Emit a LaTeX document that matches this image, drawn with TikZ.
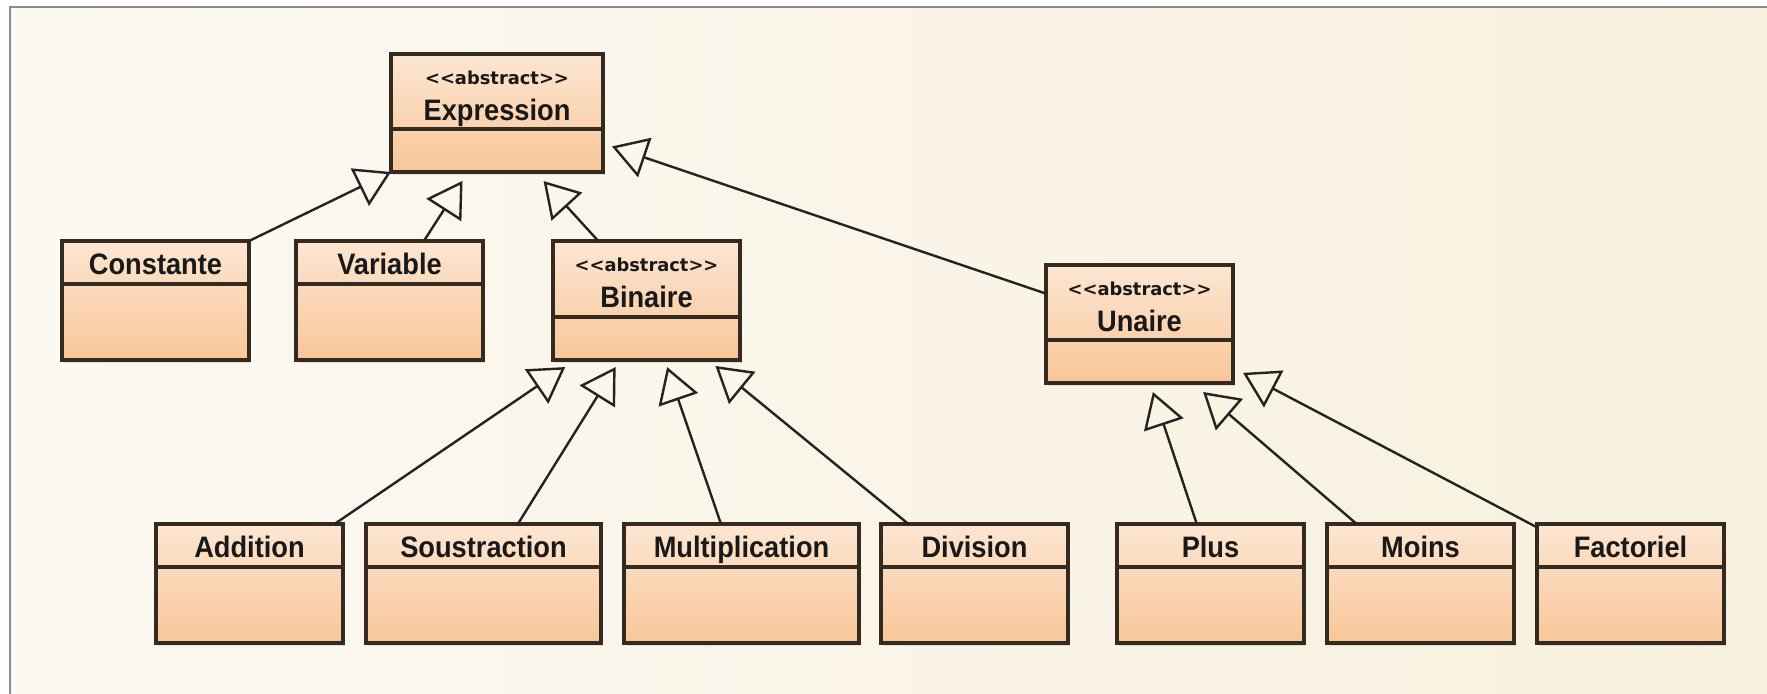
\documentclass[tikz,border=0pt]{standalone}
\usepackage{fontspec}
\setmainfont{Liberation Sans}
\newfontfamily\namefont[FakeStretch=0.92]{Liberation Sans}
\newfontfamily\stereofont{DejaVu Sans}
\usetikzlibrary{arrows.meta,shadows}

\definecolor{boxtop}{RGB}{252,230,210}
\definecolor{boxbot}{RGB}{248,198,152}
\definecolor{boxline}{RGB}{52,42,32}
\definecolor{bgleft}{RGB}{252,249,242}
\definecolor{bgright}{RGB}{247,240,221}
\definecolor{framegray}{RGB}{140,140,140}
\definecolor{arrowline}{RGB}{35,35,35}

\begin{document}
\begin{tikzpicture}[x=0.75pt,y=0.75pt,yscale=-1,xscale=1,
  classbox/.style={draw=boxline, line width=2.3pt, top color=boxtop, bottom color=boxbot, anchor=north west, inner sep=0pt, outer sep=0pt, minimum width=140.25pt, minimum height=89.25pt, drop shadow={opacity=0.2, shadow xshift=1.5pt, shadow yshift=-2.5pt}},
  widebox/.style={classbox, minimum width=176.25pt},
  classname/.style={anchor=base, inner sep=0pt, font=\namefont\bfseries\fontsize{22.2}{24}\selectfont, text=black!90},
  stereo/.style={anchor=base, inner sep=0pt, font=\stereofont\bfseries\fontsize{13.4}{15}\selectfont, text=black!90},
  compline/.style={draw=boxline, line width=2.3pt},
  inherit/.style={draw=arrowline, line width=1.8pt, -{Triangle[open, length=26pt, width=31pt]}}
]
\useasboundingbox (0,0) rectangle (1767,693);
\clip (0,0) rectangle (1767,693);

%Background
\fill [white] (0,0) rectangle (1767,693);
\draw [framegray, line width=1.8pt, left color=bgleft, right color=bgright] (10,7) rectangle (1800,720);

%Class: Expression
\node [classbox, minimum width=159pt, minimum height=88.5pt] (expr) at (391,54) {};
\draw [compline] (expr.north west) ++(0,75) -- ++(212,0);
% Text Node
\node [stereo] (expr-s) at (497,84) {<<abstract>>};
% Text Node
\node [classname] (expr-t) at (497,120) {Expression};

%Class: Constante
\node [classbox] (const) at (62,241) {};
\draw [compline] (const.north west) ++(0,43) -- ++(187,0);
% Text Node
\node [classname] (const-t) at (155.5,274) {Constante};

%Class: Variable
\node [classbox] (var) at (296,241) {};
\draw [compline] (var.north west) ++(0,43) -- ++(187,0);
% Text Node
\node [classname] (var-t) at (389.5,274) {Variable};

%Class: Binaire
\node [classbox] (bin) at (553,241) {};
\draw [compline] (bin.north west) ++(0,76) -- ++(187,0);
% Text Node
\node [stereo] (bin-s) at (646.5,271) {<<abstract>>};
% Text Node
\node [classname] (bin-t) at (646.5,307) {Binaire};

%Class: Unaire
\node [classbox, minimum height=88.5pt] (un) at (1046,265) {};
\draw [compline] (un.north west) ++(0,75) -- ++(187,0);
% Text Node
\node [stereo] (un-s) at (1139.5,295) {<<abstract>>};
% Text Node
\node [classname] (un-t) at (1139.5,331) {Unaire};

%Class: Addition
\node [classbox] (add) at (156,524) {};
\draw [compline] (add.north west) ++(0,43) -- ++(187,0);
% Text Node
\node [classname] (add-t) at (249.5,557) {Addition};

%Class: Soustraction
\node [widebox] (sous) at (366,524) {};
\draw [compline] (sous.north west) ++(0,43) -- ++(235,0);
% Text Node
\node [classname] (sous-t) at (483.5,557) {Soustraction};

%Class: Multiplication
\node [widebox] (mult) at (624,524) {};
\draw [compline] (mult.north west) ++(0,43) -- ++(235,0);
% Text Node
\node [classname] (mult-t) at (741.5,557) {Multiplication};

%Class: Division
\node [classbox] (div) at (881,524) {};
\draw [compline] (div.north west) ++(0,43) -- ++(187,0);
% Text Node
\node [classname] (div-t) at (974.5,557) {Division};

%Class: Plus
\node [classbox] (plus) at (1117,524) {};
\draw [compline] (plus.north west) ++(0,43) -- ++(187,0);
% Text Node
\node [classname] (plus-t) at (1210.5,557) {Plus};

%Class: Moins
\node [classbox] (moins) at (1327,524) {};
\draw [compline] (moins.north west) ++(0,43) -- ++(187,0);
% Text Node
\node [classname] (moins-t) at (1420.5,557) {Moins};

%Class: Factoriel
\node [classbox] (fact) at (1537,524) {};
\draw [compline] (fact.north west) ++(0,43) -- ++(187,0);
% Text Node
\node [classname] (fact-t) at (1630.5,557) {Factoriel};

%Generalisation
\draw [inherit] (const.north east) -- (expr.south west);
\draw [inherit, shorten >=7.9pt] (var.60) -- (expr.244);
\draw [inherit, shorten >=9.2pt] (bin.129) -- (expr.303);
\draw [inherit, shorten >=7.1pt] (un.162) -- (expr.344);
\draw [inherit, shorten >=9.4pt] (add.35) -- (bin.220);
\draw [inherit, shorten >=6.2pt] (sous.60) -- (bin.246);
\draw [inherit, shorten >=5.6pt] (mult.109) -- (bin.287);
\draw [inherit, shorten >=7.1pt] (div.138) -- (bin.316);
\draw [inherit, shorten >=7.1pt] (plus.103) -- (un.280);
\draw [inherit, shorten >=10.4pt] (moins.137) -- (un.312);
\draw [inherit, shorten >=8.5pt] (fact.149) -- (un.335);

\end{tikzpicture}
\end{document}
